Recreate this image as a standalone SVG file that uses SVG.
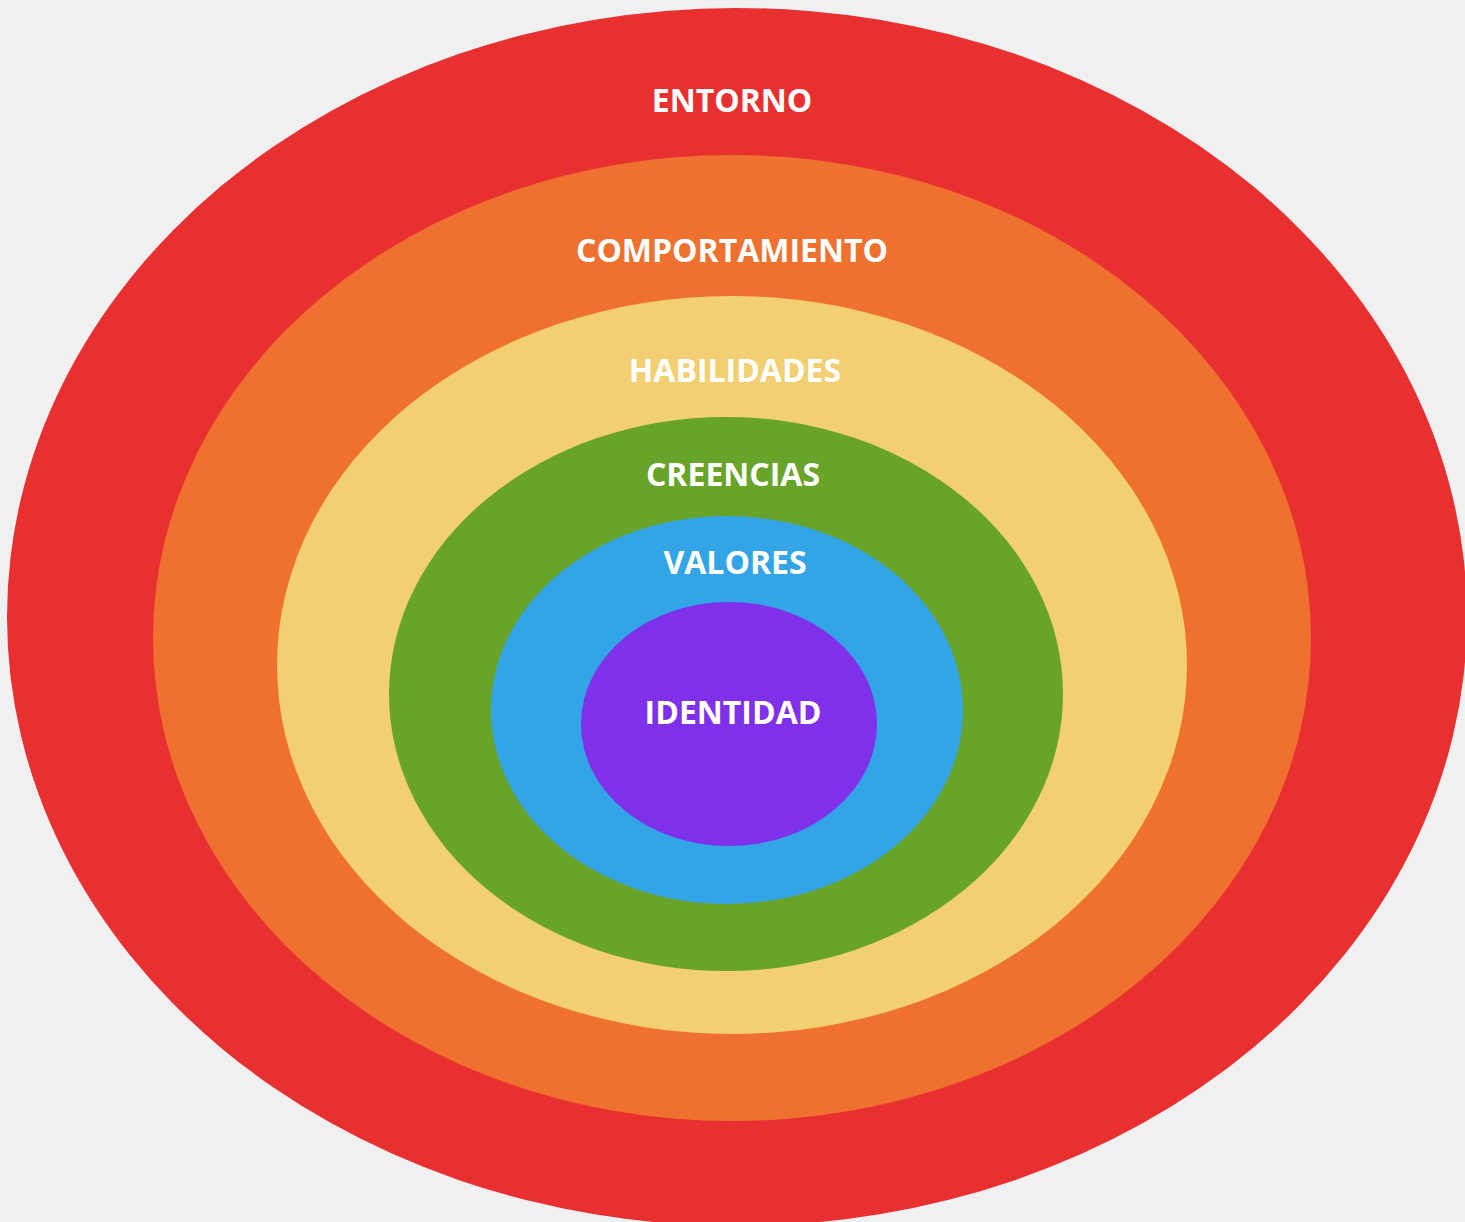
<svg xmlns="http://www.w3.org/2000/svg" width="1465" height="1222" viewBox="0 0 1465 1222">
  <defs>
    <filter id="paper" x="0" y="0" width="100%" height="100%">
      <feTurbulence type="fractalNoise" baseFrequency="0.9" numOctaves="2" seed="3" result="noise"/>
      <feColorMatrix in="noise" type="matrix" values="0 0 0 0 0.88  0 0 0 0 0.88  0 0 0 0 0.88  0 0 0 0.35 0" result="tint"/>
      <feComposite in="tint" in2="SourceGraphic" operator="over"/>
    </filter>
    <style>
      .lbl { font-family: "Open Sans", "Noto Sans", "Liberation Sans", sans-serif; font-weight: 700; font-size: 32px; fill: #ffffff; text-anchor: middle; }
    </style>
  </defs>
  <rect x="0" y="0" width="1465" height="1222" fill="#f0f0f0" filter="url(#paper)"/>
  <g id="entorno">
    <ellipse cx="737" cy="617" rx="730" ry="609" fill="#e83031"/>
    <text class="lbl" x="732" y="112">ENTORNO</text>
  </g>
  <g id="comportamiento">
    <ellipse cx="732" cy="638" rx="579" ry="483" fill="#ee712f"/>
    <text class="lbl" x="732" y="262">COMPORTAMIENTO</text>
  </g>
  <g id="habilidades">
    <ellipse cx="732" cy="665" rx="455" ry="369" fill="#f3cf73"/>
    <text class="lbl" x="735" y="382">HABILIDADES</text>
  </g>
  <g id="creencias">
    <ellipse cx="726" cy="694" rx="337" ry="277" fill="#68a42a"/>
    <text class="lbl" x="733" y="486">CREENCIAS</text>
  </g>
  <g id="valores">
    <ellipse cx="727" cy="710" rx="236" ry="194" fill="#33a5e7"/>
    <text class="lbl" x="735" y="574">VALORES</text>
  </g>
  <g id="identidad">
    <ellipse cx="729" cy="724" rx="148" ry="122" fill="#7f31e9"/>
    <text class="lbl" x="733" y="724">IDENTIDAD</text>
  </g>
  <g id="connectors"/>
</svg>
